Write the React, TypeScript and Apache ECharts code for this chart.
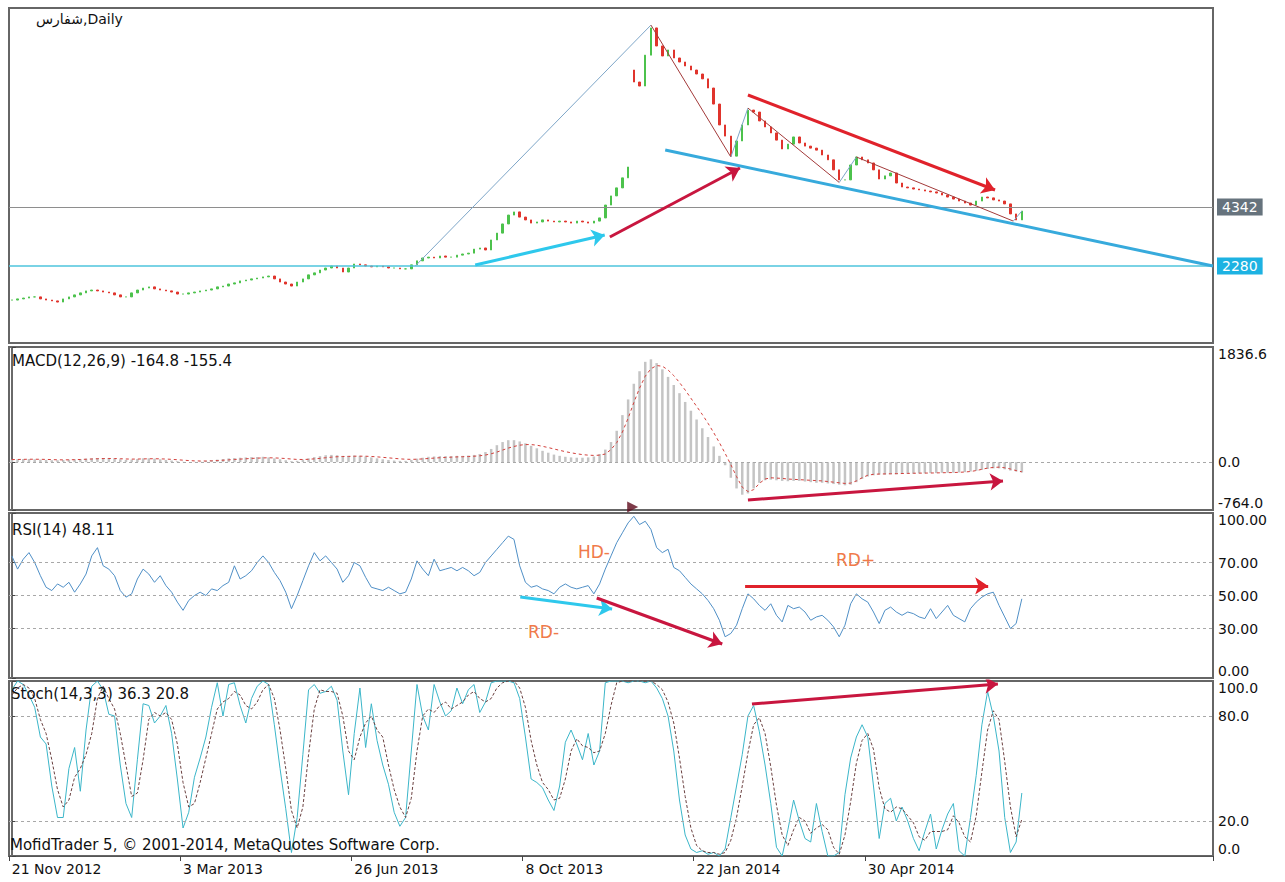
import React, { useEffect, useRef } from "react";
import * as echarts from "echarts";

// ---------------- data ----------------
const SLOT_COUNT = 211; // bar slots on the time axis (data + empty right margin)
const dateLabels = ["21 Nov 2012", "3 Mar 2013", "26 Jun 2013", "8 Oct 2013", "22 Jan 2014", "30 Apr 2014"];
const dateLabelBars = [0, 30, 60, 90, 120, 150];
const priceLevels = [4342, 2280];

const closes = [
  1090, 1130, 1160, 1200, 1200, 1130, 1090, 1060, 1020, 1130,
  1200, 1270, 1340, 1410, 1440, 1410, 1370, 1340, 1270, 1200,
  1200, 1340, 1440, 1510, 1550, 1480, 1440, 1410, 1370, 1300,
  1300, 1340, 1370, 1410, 1440, 1480, 1550, 1580, 1650, 1690,
  1760, 1790, 1830, 1860, 1900, 1930, 1830, 1720, 1650, 1580,
  1720, 1830, 1970, 2040, 2140, 2210, 2280, 2210, 2070, 2210,
  2350, 2320, 2280, 2250, 2280, 2250, 2210, 2210, 2180, 2180,
  2320, 2460, 2560, 2590, 2560, 2630, 2590, 2590, 2660, 2700,
  2730, 2870, 2910, 2840, 3190, 3430, 3750, 4060, 4170, 3990,
  3890, 3780, 3820, 3890, 3850, 3820, 3850, 3820, 3780, 3850,
  3820, 3780, 3850, 3960, 4410, 4730, 5010, 5360, 5740, 8710,
  8570, 9650, 10600, 9970, 9620, 9830, 9550, 9410, 9270, 9130,
  8990, 8820, 8500, 7940, 7210, 6820, 6120, 6650, 7210, 7730,
  7660, 7350, 7140, 6930, 6680, 6370, 6540, 6790, 6580, 6470,
  6400, 6330, 6160, 5990, 5640, 5290, 5290, 5810, 6090, 5990,
  5880, 5640, 5320, 5430, 5530, 5180, 5040, 5010, 4970, 4940,
  4900, 4870, 4830, 4760, 4690, 4620, 4550, 4480, 4410, 4550,
  4690, 4660, 4590, 4550, 4450, 4100, 3890, 4200,
];
const openOverrides: Record<number, number> = { 109: 9130 };

const macdHist = [
  40, 45, 50, 50, 45, 40, 35, 30, 30, 35,
  40, 45, 50, 55, 60, 65, 65, 60, 55, 45,
  35, 40, 50, 60, 60, 55, 45, 35, 25, 15,
  5, 0, 5, 10, 20, 30, 40, 50, 60, 65,
  70, 75, 80, 80, 85, 75, 60, 45, 30, 15,
  20, 40, 60, 80, 95, 110, 115, 110, 100, 100,
  105, 100, 90, 75, 60, 45, 35, 25, 20, 20,
  35, 55, 70, 85, 90, 95, 95, 95, 100, 100,
  105, 115, 130, 160, 210, 270, 320, 350, 350, 330,
  300, 260, 220, 180, 150, 120, 100, 85, 75, 70,
  70, 75, 90, 130, 200, 320, 500, 750, 1000, 1250,
  1450, 1600, 1640, 1580, 1480, 1360, 1230, 1100, 960, 820,
  680, 540, 400, 250, 100, -50, -250, -420, -520, -500,
  -420, -330, -290, -280, -290, -300, -305, -300, -300, -310,
  -320, -330, -330, -340, -350, -360, -370, -360, -320, -270,
  -230, -210, -200, -200, -195, -195, -190, -185, -185, -180,
  -180, -175, -175, -170, -170, -170, -165, -160, -150, -140,
  -125, -110, -100, -100, -115, -135, -150, -165,
];
const macdSignal = [
  40, 42, 44, 46, 46, 45, 43, 40, 37, 36,
  37, 39, 42, 46, 50, 54, 57, 58, 57, 54,
  50, 48, 49, 51, 53, 54, 52, 49, 44, 38,
  31, 25, 20, 18, 18, 21, 25, 30, 36, 42,
  48, 53, 59, 63, 67, 69, 67, 63, 57, 49,
  43, 42, 45, 52, 60, 70, 79, 86, 89, 91,
  94, 95, 94, 90, 84, 76, 68, 60, 52, 46,
  44, 46, 51, 58, 64, 70, 75, 79, 83, 86,
  89, 94, 101, 113, 133, 160, 192, 224, 250, 270,
  280, 280, 270, 252, 232, 210, 188, 167, 149, 133,
  120, 111, 107, 111, 129, 200, 310, 480, 700, 950,
  1180, 1370, 1490, 1540, 1530, 1470, 1380, 1270, 1150, 1020,
  890, 760, 620, 470, 310, 140, -40, -230, -400, -470,
  -440, -340, -270, -250, -255, -260, -270, -275, -280, -285,
  -290, -295, -300, -310, -320, -330, -340, -335, -300, -250,
  -210, -195, -190, -188, -186, -184, -182, -180, -178, -176,
  -175, -174, -172, -170, -168, -166, -163, -158, -150, -135,
  -115, -95, -85, -80, -90, -110, -135, -155,
];
const macdZero = [0];

const rsi = [
  74, 66, 72, 76, 70, 62, 55, 53, 57, 55,
  58, 52, 57, 63, 74, 79, 68, 66, 62, 53,
  49, 51, 60, 66, 63, 58, 62, 56, 52, 46,
  41, 47, 50, 52, 50, 54, 53, 56, 58, 68,
  60, 62, 65, 70, 74, 70, 64, 59, 52, 42,
  50, 59, 68, 76, 71, 74, 70, 66, 58, 62,
  70, 68, 61, 55, 54, 53, 55, 53, 51, 52,
  60, 71, 66, 62, 72, 65, 66, 67, 65, 67,
  65, 62, 64, 70, 74, 78, 82, 86, 84, 68,
  58, 55, 56, 54, 53, 51, 55, 57, 55, 54,
  55, 56, 51, 57, 66, 74, 82, 88, 94, 98,
  93, 95, 90, 79, 76, 78, 67, 65, 61, 57,
  54, 51, 47, 42, 35, 25, 27, 32, 42, 51,
  48, 44, 41, 45, 38, 34, 44, 42, 43, 40,
  35, 37, 38, 35, 31, 25, 32, 45, 51, 48,
  46, 40, 33, 41, 43, 40, 38, 40, 39, 37,
  36, 42, 36, 40, 44, 38, 36, 34, 42, 46,
  49, 51, 52, 44, 37, 30, 33, 48,
];
const rsiLevels = [70, 50, 30];

const stochK = [
  95, 100, 98, 92, 85, 68, 64, 40, 22, 22,
  50, 62, 37, 72, 97, 100, 95, 81, 80, 52,
  30, 22, 55, 87, 86, 76, 80, 86, 70, 44,
  16, 25, 45, 56, 68, 85, 99, 80, 98, 99,
  86, 76, 90, 97, 100, 98, 75, 50, 27, 2,
  22, 58, 95, 98, 93, 94, 97, 89, 60, 35,
  70, 96, 62, 87, 66, 52, 41, 25, 17, 22,
  60, 98, 80, 72, 98, 88, 80, 83, 96, 87,
  95, 98, 82, 88, 99, 100, 100, 100, 99, 90,
  68, 44, 42, 39, 32, 26, 40, 65, 72, 64,
  55, 70, 52, 60, 99, 100, 100, 100, 99, 100,
  100, 99, 100, 96, 90, 80, 60, 32, 12, 4,
  2, 3, 1, 2, 0, 4, 22, 40, 58, 80,
  86, 71, 52, 30, 5, 0, 15, 32, 20, 10,
  8, 30, 14, 0, 0, 2, 35, 56, 68, 75,
  68, 40, 10, 30, 33, 20, 28, 20, 10, 3,
  14, 24, 4, 15, 24, 30, 3, 0, 22, 46,
  75, 94, 80, 60, 22, 2, 8, 36,
];
const stochD = [
  92, 96, 98, 96, 90, 78, 70, 55, 38, 28,
  32, 45, 50, 58, 70, 90, 97, 90, 84, 70,
  52, 34, 36, 55, 78, 82, 80, 82, 78, 64,
  42, 28, 30, 42, 56, 70, 84, 88, 90, 94,
  92, 86, 84, 88, 95, 98, 90, 72, 50, 26,
  16, 28, 58, 84, 95, 94, 94, 93, 80, 60,
  55, 68, 76, 80, 72, 68, 52, 38, 28, 22,
  33, 60, 80, 84, 82, 86, 88, 84, 86, 88,
  92, 94, 90, 88, 90, 96, 99, 100, 100, 96,
  85, 66, 52, 42, 38, 32, 33, 44, 60, 67,
  63, 62, 59, 60, 70, 86, 99, 100, 100, 100,
  100, 100, 100, 98, 95, 88, 76, 56, 34, 16,
  6, 3, 2, 2, 1, 2, 9, 22, 40, 59,
  75, 79, 70, 51, 29, 12, 6, 15, 22, 20,
  13, 16, 18, 15, 5, 1, 12, 31, 53, 66,
  70, 61, 39, 27, 25, 28, 27, 23, 19, 11,
  9, 14, 14, 14, 15, 23, 19, 11, 8, 23,
  48, 72, 83, 78, 54, 28, 11, 21,
];
const stochLevels = [80, 20];

// analyst drawings, in [bar index, value]
const priceZigzag = [[70.7, 2280], [112, 10700], [126, 6090], [129, 7800], [145, 5200], [148, 6090], [175.5, 3850], [177, 4200]];
const priceCyanArrow = [[81.2, 2315], [103.9, 3363]];
const priceCrimsonArrow = [[104.8, 3294], [127.6, 5705]];
const priceRedArrow = [[129, 8256], [172.3, 4936]];
const priceTrendLine = [[114.5, 6334], [210.5, 2280]];
const macdArrow = [[129, -605], [173.7, -301]];
const macdMarker = [[108.8, -716]];
const rsiCyanArrow = [[89.1, 49.1], [105.2, 41.8]];
const rsiCrimsonArrow = [[102.5, 48.5], [124.5, 20.6]];
const rsiRedArrow = [[128.5, 55.8], [171.1, 55.8]];
const stochArrow = [[129.7, 86.8], [172.8, 98.3]];

// ---------------- option ----------------
const FONT = "DejaVu Sans";
const GRID_LEFT = 9;
const GRID_W = 1204;
const panes = [
  { top: 8, height: 335 },
  { top: 347, height: 163 },
  { top: 513, height: 165 },
  { top: 681, height: 175 },
];

function buildOption() {
  const categories = Array.from({ length: SLOT_COUNT }, (_, i) => String(i));
  const labelMap = new Map<number, string>(dateLabelBars.map((b, k) => [b, dateLabels[k]]));
  const showDate = (i: number) => labelMap.has(i);

  const candleData = closes.map((c, i) => {
    const o = openOverrides[i] ?? (i === 0 ? c : closes[i - 1]);
    return [o, c, Math.min(o, c), Math.max(o, c)];
  });

  const zigSegments = priceZigzag.slice(1).map((p, k) => {
    const a = priceZigzag[k];
    const up = p[1] > a[1];
    return { coords: [a, p], lineStyle: { color: up ? "#7ea6c8" : "#a33a3a" } };
  });

  const yCommon = (vals: number[], decimals: number) => ({
    position: "right",
    axisLine: { show: true, lineStyle: { color: "#6a6a6a", width: 2 } },
    axisTick: { show: true, length: 4, customValues: vals, lineStyle: { color: "#444" } },
    axisLabel: {
      customValues: vals,
      formatter: (v: number) => v.toFixed(decimals),
      color: "#111",
      fontFamily: FONT,
      fontSize: 14,
      margin: 5,
      verticalAlignMaxLabel: "top",
      verticalAlignMinLabel: "bottom",
    },
    splitLine: { show: false },
  });

  const arrow = (xi: number, yi: number, coords: number[][], color: string, width = 3) => ({
    type: "lines",
    coordinateSystem: "cartesian2d",
    xAxisIndex: xi,
    yAxisIndex: yi,
    symbol: ["none", "arrow"],
    symbolSize: 13,
    silent: true,
    z: 6,
    lineStyle: { color, width, opacity: 1, curveness: 0 },
    data: [{ coords }],
  });

  const dashedLevels = (vals: number[]) => ({
    symbol: "none",
    silent: true,
    animation: false,
    label: { show: false },
    lineStyle: { color: "#a8a8a8", type: [3, 3], width: 1 },
    data: vals.map((v) => ({ yAxis: v })),
  });

  const CRIMSON = "#c8163f";
  const RED = "#e0222b";
  const CYAN = "#2ec8ec";
  const titleStyle = (text: string) => ({ text, fill: "#111", fontSize: 15, fontFamily: FONT, verticalAlign: "middle" });

  return {
    animation: false,
    backgroundColor: "#ffffff",
    textStyle: { fontFamily: FONT },
    grid: panes.map((p) => ({
      left: GRID_LEFT,
      width: GRID_W,
      top: p.top,
      height: p.height,
      show: true,
      borderColor: "#666666",
      borderWidth: 2,
      backgroundColor: "#ffffff",
    })),
    xAxis: [
      ...panes.map((_, g) => ({
        type: "category",
        gridIndex: g,
        data: categories,
        boundaryGap: true,
        axisLine: { show: g === 3, lineStyle: { color: "#555" } },
        axisTick: { show: g === 3, interval: (i: number) => showDate(i), length: 5, lineStyle: { color: "#444" } },
        axisLabel: {
          show: g === 3,
          interval: (i: number) => showDate(i),
          formatter: (v: string) => labelMap.get(Number(v)) ?? "",
          align: "left",
          color: "#111",
          fontFamily: FONT,
          fontSize: 14,
          margin: 6,
        },
        splitLine: { show: false },
      })),
      ...panes.map((_, g) => ({ type: "value", gridIndex: g, min: -0.5, max: SLOT_COUNT - 0.5, show: false })),
    ],
    yAxis: [
      {
        type: "value",
        gridIndex: 0,
        min: -411,
        max: 11297,
        position: "right",
        axisLine: { show: false },
        axisTick: { show: false },
        axisLabel: { show: false },
        splitLine: { show: false },
      },
      { type: "value", gridIndex: 1, min: -764, max: 1836.6, ...yCommon([-764, 0, 1836.6], 1) },
      { type: "value", gridIndex: 2, min: 0, max: 100, ...yCommon([0, 30, 50, 70, 100], 2) },
      { type: "value", gridIndex: 3, min: 0, max: 100, ...yCommon([0, 20, 80, 100], 1) },
    ],
    series: [
      {
        type: "candlestick",
        xAxisIndex: 0,
        yAxisIndex: 0,
        data: candleData,
        barWidth: 2,
        itemStyle: { color: "#4cc24c", color0: "#e0342c", borderColor: "#4cc24c", borderColor0: "#e0342c", borderWidth: 1 },
        markLine: {
          symbol: "none",
          silent: true,
          animation: false,
          data: priceLevels.map((v, k) => ({
            yAxis: v,
            lineStyle: { color: k === 0 ? "#8e8e8e" : "#4ec4dc", width: k === 0 ? 1 : 1.5, type: "solid" },
            label: {
              show: true,
              position: "end",
              formatter: String(v),
              color: "#ffffff",
              backgroundColor: k === 0 ? "#66737d" : "#1db2e2",
              padding: [2, 5, 1, 5],
              fontSize: 14,
              fontFamily: FONT,
              distance: 4,
            },
          })),
        },
      },
      {
        type: "lines",
        coordinateSystem: "cartesian2d",
        xAxisIndex: 4,
        yAxisIndex: 0,
        silent: true,
        z: 5,
        symbol: "none",
        lineStyle: { width: 1, opacity: 1, curveness: 0 },
        data: zigSegments,
      },
      {
        type: "lines",
        coordinateSystem: "cartesian2d",
        xAxisIndex: 4,
        yAxisIndex: 0,
        silent: true,
        z: 5,
        symbol: "none",
        lineStyle: { width: 3, color: "#37aadc", opacity: 1, curveness: 0 },
        data: [{ coords: priceTrendLine }],
      },
      arrow(4, 0, priceCyanArrow, CYAN),
      arrow(4, 0, priceCrimsonArrow, CRIMSON),
      arrow(4, 0, priceRedArrow, RED),
      // MACD
      {
        type: "bar",
        xAxisIndex: 1,
        yAxisIndex: 1,
        data: macdHist,
        barWidth: 2.5,
        itemStyle: { color: "#c4c4c4" },
        markLine: dashedLevels(macdZero),
      },
      {
        type: "line",
        xAxisIndex: 1,
        yAxisIndex: 1,
        data: macdSignal,
        symbol: "none",
        lineStyle: { color: "#d2403c", width: 1, type: [3, 3] },
      },
      arrow(5, 1, macdArrow, CRIMSON),
      {
        type: "scatter",
        xAxisIndex: 5,
        yAxisIndex: 1,
        data: macdMarker,
        symbol: "triangle",
        symbolRotate: -90,
        symbolSize: [11, 11],
        itemStyle: { color: "#5e0a1c" },
        silent: true,
      },
      // RSI
      {
        type: "line",
        xAxisIndex: 2,
        yAxisIndex: 2,
        data: rsi,
        symbol: "none",
        lineStyle: { color: "#4f8fc6", width: 1 },
        markLine: dashedLevels(rsiLevels),
      },
      arrow(6, 2, rsiCyanArrow, CYAN),
      arrow(6, 2, rsiCrimsonArrow, CRIMSON),
      arrow(6, 2, rsiRedArrow, RED),
      // Stochastic
      {
        type: "line",
        xAxisIndex: 3,
        yAxisIndex: 3,
        data: stochK,
        symbol: "none",
        lineStyle: { color: "#3bb6c9", width: 1 },
        markLine: dashedLevels(stochLevels),
      },
      {
        type: "line",
        xAxisIndex: 3,
        yAxisIndex: 3,
        data: stochD,
        symbol: "none",
        lineStyle: { color: "#6a4040", width: 1, type: [3, 2] },
      },
      arrow(7, 3, stochArrow, CRIMSON),
    ],
    graphic: [
      { type: "text", x: 36, y: 19, z: 100, style: { text: "شفارس,Daily", fill: "#111", fontSize: 14, fontFamily: FONT, verticalAlign: "middle" } },
      { type: "text", x: 12, y: 361, z: 100, style: titleStyle("MACD(12,26,9) -164.8 -155.4") },
      { type: "text", x: 12, y: 530, z: 100, style: titleStyle("RSI(14) 48.11") },
      { type: "text", x: 11, y: 694, z: 100, style: titleStyle("Stoch(14,3,3) 36.3 20.8") },
      { type: "text", x: 10, y: 845, z: 100, style: titleStyle("MofidTrader 5, © 2001-2014, MetaQuotes Software Corp.") },
      { type: "text", x: 578, y: 552, z: 100, style: { text: "HD-", fill: "#f07a4a", fontSize: 17, fontFamily: FONT, verticalAlign: "middle" } },
      { type: "text", x: 528, y: 632, z: 100, style: { text: "RD-", fill: "#f07a4a", fontSize: 17, fontFamily: FONT, verticalAlign: "middle" } },
      { type: "text", x: 836, y: 560, z: 100, style: { text: "RD+", fill: "#f07a4a", fontSize: 17, fontFamily: FONT, verticalAlign: "middle" } },
    ],
  };
}

export default function App() {
  const ref = useRef<HTMLDivElement>(null);
  useEffect(() => {
    if (!ref.current) return;
    const chart = echarts.init(ref.current, null, { renderer: "svg" });
    chart.setOption(buildOption() as any);
    return () => chart.dispose();
  }, []);
  return (
    <div
      ref={ref}
      style={{ position: "absolute", left: 0, top: 0, width: 1285, height: 882, background: "#ffffff" }}
    />
  );
}
